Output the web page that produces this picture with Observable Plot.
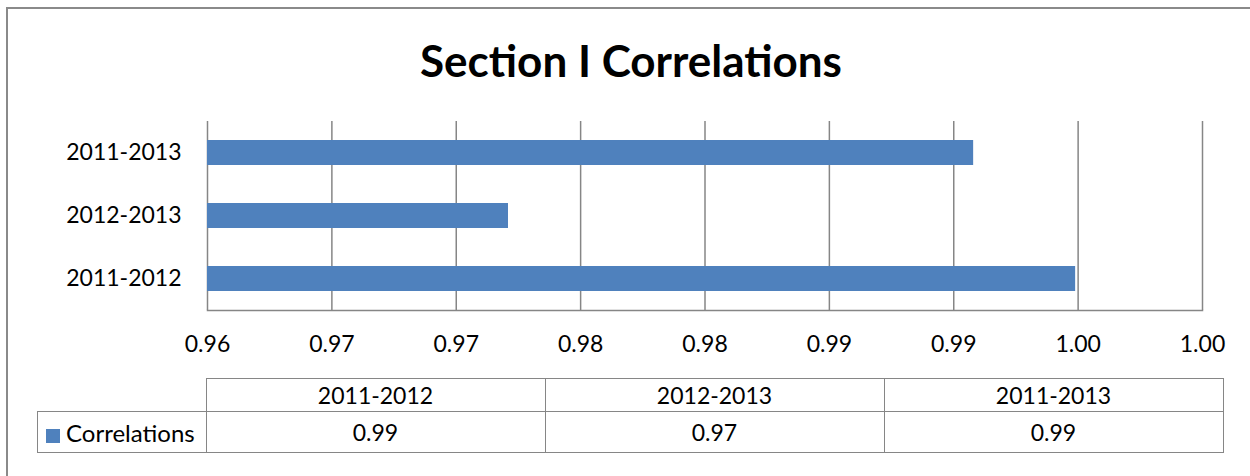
<!DOCTYPE html>
<html>
<head>
<meta charset="utf-8">
<script src="https://cdn.jsdelivr.net/npm/d3@7"></script>
<script src="https://cdn.jsdelivr.net/npm/@observablehq/plot@0.6"></script>
<style>
  html, body { margin: 0; padding: 0; background: #fff; overflow: hidden; }
  #chart { position: relative; width: 1250px; height: 476px; font-family: Lato, "Open Sans", sans-serif; }
  #border { position: absolute; left: 6px; top: 7px; width: 1300px; height: 500px; border-left: 2px solid #8a8a8a; border-top: 2px solid #8a8a8a; }
  #title { position: absolute; left: 0; width: 1262px; top: 33px; text-align: center; font-weight: 700; font-size: 44px; line-height: 54px; color: #000; }
  #plot { position: absolute; left: 0; top: 0; }
  #table { position: absolute; left: 37px; top: 378px; border-collapse: collapse; font-size: 23px; color: #000; }
  #table td { border: 1.5px solid #868686; text-align: center; padding: 0; }
  #table tr.head td { height: 32px; }
  #table tr.vals td { height: 40px; }
  #table td.corner { border-top: none; border-left: none; }
  #table td.series { text-align: left; padding-left: 8px; white-space: nowrap; font-size: 24px; }
  .swatch { display: inline-block; width: 14px; height: 14px; margin-right: 6px; vertical-align: -1px; }
</style>
</head>
<body>
<div id="chart">
  <div id="border"></div>
  <div id="title">Section I Correlations</div>
  <div id="plot"></div>
  <table id="table"></table>
</div>
<script>
// Correlation of section scores between pairs of years
const periods = ["2011-2012", "2012-2013", "2011-2013"];
const correlations = [0.9949, 0.9721, 0.9908];
const seriesName = "Correlations";

// Axis ticks every 0.005, labelled with two decimals as in the source workbook
const xTicks = [0.96, 0.965, 0.97, 0.975, 0.98, 0.985, 0.99, 0.995, 1.0];
const xTickLabels = ["0.96", "0.97", "0.97", "0.98", "0.98", "0.99", "0.99", "1.00", "1.00"];

const barColor = "#4F81BD";
const gridColor = "#868686";
const xMin = xTicks[0];

const rows = periods.map((p, i) => ({period: p, value: correlations[i]}));

const plot = Plot.plot({
  width: 1250,
  height: 360,
  marginLeft: 207,
  marginRight: 48,
  marginTop: 121,
  marginBottom: 50,
  style: {fontFamily: "Lato, 'Open Sans', sans-serif", fontSize: "23px", color: "#000", background: "transparent"},
  x: {domain: [xTicks[0], xTicks[xTicks.length - 1]]},
  y: {domain: periods.slice().reverse(), paddingInner: 0.6, paddingOuter: 0.3},
  marks: [
    Plot.ruleX(xTicks, {stroke: gridColor, strokeWidth: 1.5}),
    Plot.frame({anchor: "bottom", stroke: gridColor, strokeWidth: 1.5}),
    Plot.barX(rows, {y: "period", x1: () => xMin, x2: "value", fill: barColor}),
    Plot.axisX({
      ticks: xTicks,
      tickSize: 0,
      tickPadding: 25,
      label: null,
      fill: "#000",
      tickFormat: d => xTickLabels[Math.round((d - xMin) / 0.005)]
    }),
    Plot.axisY({tickSize: 0, tickPadding: 26, label: null, fill: "#000"})
  ]
});
document.getElementById("plot").append(plot);

// Data table under the chart
const table = d3.select("#table");
const head = table.append("tr").attr("class", "head");
head.append("td").attr("class", "corner").style("width", "168px");
periods.forEach(p => head.append("td").style("width", "338px").text(p));
const vals = table.append("tr").attr("class", "vals");
const s = vals.append("td").attr("class", "series");
s.append("span").attr("class", "swatch").style("background", barColor);
s.append("span").text(seriesName);
correlations.forEach(v => vals.append("td").text(v.toFixed(2)));
</script>
</body>
</html>
